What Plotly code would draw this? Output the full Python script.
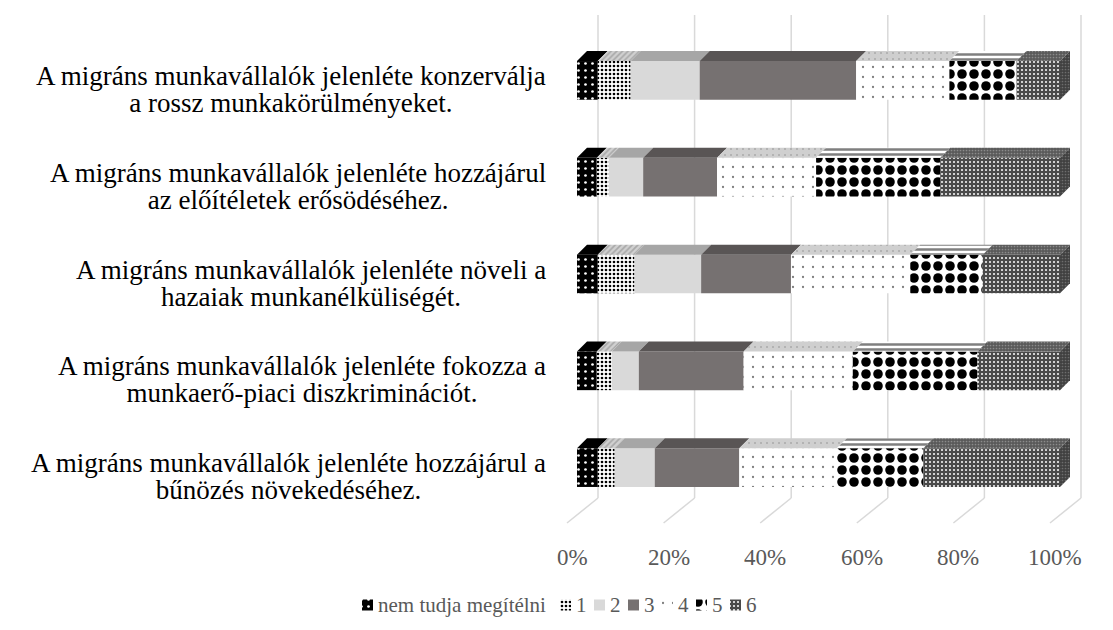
import plotly.graph_objects as go

categories = [
    ["A migráns munkavállalók jelenléte konzerválja", "a rossz munkakörülményeket."],
    ["A migráns munkavállalók jelenléte hozzájárul", "az előítéletek erősödéséhez."],
    ["A migráns munkavállalók jelenléte növeli a", "hazaiak munkanélküliségét."],
    ["A migráns munkavállalók jelenléte fokozza a", "munkaerő-piaci diszkriminációt."],
    ["A migráns munkavállalók jelenléte hozzájárul a", "bűnözés növekedéséhez."],
]
series_names = ["nem tudja megítélni", "1", "2", "3", "4", "5", "6"]
v_nt = [4.3, 4.1, 4.3, 4.1, 4.3]
v_1 = [6.8, 2.5, 7.6, 3.1, 3.5]
v_2 = [14.3, 7.1, 13.8, 5.6, 8.3]
v_3 = [32.4, 15.3, 18.6, 21.7, 17.5]
v_4 = [19.3, 20.5, 24.7, 22.6, 20.2]
v_5 = [13.9, 25.7, 15.0, 25.8, 17.9]
v_6 = [9.0, 24.8, 16.0, 17.1, 28.3]
series_values = [v_nt, v_1, v_2, v_3, v_4, v_5, v_6]
tick_vals = [0, 20, 40, 60, 80, 100]
tick_text = ["0%", "20%", "40%", "60%", "80%", "100%"]

FONT = "Liberation Serif"
OFF = 8                      # page body margin of the html page
W, H = 1113, 630
PX = 4.83                    # pixels per percent
X0_PX = 577 - OFF            # front-face 0% position (figure px)
PLOT_TOP, PLOT_BOT = 32 - OFF, 516 - OFF

ypos = list(range(len(categories)))
BAR_W = 0.4
DX = 10 / PX                 # depth offset of bar top faces (x, percent units)
DY = 10 / ((PLOT_BOT - PLOT_TOP) / 5.0)  # depth offset (category units)

front_styles = [
    dict(color="black", pattern=dict(shape=".", fgcolor="white", bgcolor="black", size=7, solidity=0.12, fgopacity=1)),
    dict(color="white", pattern=dict(shape=".", fgcolor="black", bgcolor="white", size=4, solidity=0.35, fgopacity=1)),
    dict(color="#d9d9d9"),
    dict(color="#767171"),
    dict(color="white", pattern=dict(shape=".", fgcolor="#7f7f7f", bgcolor="white", size=10, solidity=0.04, fgopacity=1)),
    dict(color="white", pattern=dict(shape=".", fgcolor="black", bgcolor="white", size=12, solidity=0.5, fgopacity=1)),
    dict(color="#555555", pattern=dict(shape=".", fgcolor="white", bgcolor="#4a4a4a", size=4, solidity=0.2, fgopacity=1)),
]
top_styles = [
    dict(fillcolor="black"),
    dict(fillcolor="#bfbfbf", fillpattern=dict(shape="/", fgcolor="#7f7f7f", bgcolor="#d0d0d0", size=4, solidity=0.4)),
    dict(fillcolor="#a6a6a6"),
    dict(fillcolor="#595555"),
    dict(fillcolor="#c8c8c8", fillpattern=dict(shape=".", fgcolor="#8a8a8a", bgcolor="#cfcfcf", size=6, solidity=0.1)),
    dict(fillcolor="#777777", fillpattern=dict(shape="-", fgcolor="black", bgcolor="white", size=5, solidity=0.5)),
    dict(fillcolor="#6a6a6a", fillpattern=dict(shape=".", fgcolor="#bbbbbb", bgcolor="#5a5a5a", size=3, solidity=0.25)),
]

fig = go.Figure()

# front faces (stacked via explicit cumulative base)
cum = [0.0] * len(categories)
bases = []
for name, vals, st in zip(series_names, series_values, front_styles):
    base = list(cum)
    bases.append(base)
    fig.add_trace(go.Bar(
        y=ypos, x=vals, base=base, name=name, orientation="h", width=BAR_W,
        marker=dict(line=dict(width=0), opacity=1, **st),
        showlegend=False,
    ))
    cum = [c + v for c, v in zip(cum, vals)]

# top faces and right side (pseudo-3D), computed from the same cumulative values
for si, (vals, base, st) in enumerate(zip(series_values, bases, top_styles)):
    for i, v in enumerate(vals):
        s, e = base[i], base[i] + v
        yt = ypos[i] - BAR_W / 2
        fig.add_trace(go.Scatter(x=[s, e, e + DX, s + DX, s], y=[yt, yt, yt - DY, yt - DY, yt],
                                 mode="lines", fill="toself", line=dict(width=0),
                                 showlegend=False, hoverinfo="skip", **st))
        if si == len(series_values) - 1:
            yb = ypos[i] + BAR_W / 2
            fig.add_trace(go.Scatter(x=[e, e + DX, e + DX, e, e], y=[yt, yt - DY, yb - DY, yb, yt],
                                     mode="lines", fill="toself", line=dict(width=0),
                                     showlegend=False, hoverinfo="skip", fillcolor="#4a4a4a",
                                     fillpattern=dict(shape=".", fgcolor="#999999", bgcolor="#404040",
                                                      size=3, solidity=0.25)))

# manual legend (pixel axis x2/y2 spanning the figure)
leg_marker_left = [362, 560, 594, 628, 662, 696, 730]
LEG_Y = 605
LEG_M = 11
annotations = []
for name, st, lx in zip(series_names, front_styles, leg_marker_left):
    fig.add_trace(go.Bar(x=[LEG_M], base=[lx - OFF], y=[LEG_Y - OFF], width=LEG_M, orientation="h",
                         xaxis="x2", yaxis="y2", showlegend=False, hoverinfo="skip",
                         marker=dict(line=dict(width=0), opacity=1, **st)))
    annotations.append(dict(x=lx - OFF + LEG_M + 3, y=LEG_Y - OFF, xref="x2", yref="y2", text=name,
                            showarrow=False, xanchor="left", yanchor="middle",
                            font=dict(family=FONT, size=21, color="#595959")))

shapes = []
for v in tick_vals:
    shapes.append(dict(type="line", xref="x", yref="y domain", xsizemode="pixel", ysizemode="pixel",
                       xanchor=v, yanchor=0, x0=21, x1=21, y0=18, y1=501,
                       line=dict(color="#d9d9d9", width=1.5), layer="below"))
    shapes.append(dict(type="line", xref="x", yref="y domain", xsizemode="pixel", ysizemode="pixel",
                       xanchor=v, yanchor=0, x0=21, x1=-10, y0=18, y1=-7,
                       line=dict(color="#d9d9d9", width=1.5), layer="below"))

for v, t in zip(tick_vals, tick_text):
    annotations.append(dict(x=v, y=0, xref="x", yref="y domain", text=t, showarrow=False,
                            xanchor="center", yanchor="middle", xshift=-5, yshift=-41,
                            font=dict(family=FONT, size=23, color="#595959")))
for y, (l1, l2) in zip(ypos, categories):
    txt = ('<span style="font-size:27px">' + l1 + '</span><br>'
           '<span style="font-size:27px">' + l2 + '</span>')
    annotations.append(dict(x=0, y=y, xref="x", yref="y", text=txt, showarrow=False,
                            xanchor="right", yanchor="middle", align="center", xshift=-29, yshift=-9,
                            font=dict(family=FONT, size=21, color="black")))

fig.update_layout(
    width=W, height=H,
    margin=dict(l=0, r=0, t=0, b=0),
    barmode="overlay",
    plot_bgcolor="rgba(0,0,0,0)", paper_bgcolor="white",
    xaxis=dict(domain=[0, 1], range=[-X0_PX / PX, (W - X0_PX) / PX], visible=False, fixedrange=True),
    yaxis=dict(domain=[1 - PLOT_BOT / H, 1 - PLOT_TOP / H], range=[4.5, -0.5], visible=False, fixedrange=True),
    xaxis2=dict(domain=[0, 1], range=[0, W], visible=False, fixedrange=True, anchor="y2"),
    yaxis2=dict(domain=[0, 1], range=[H, 0], visible=False, fixedrange=True, anchor="x2"),
    shapes=shapes,
    annotations=annotations,
    showlegend=False,
    font=dict(family=FONT),
)

fig.write_html("out.html")
